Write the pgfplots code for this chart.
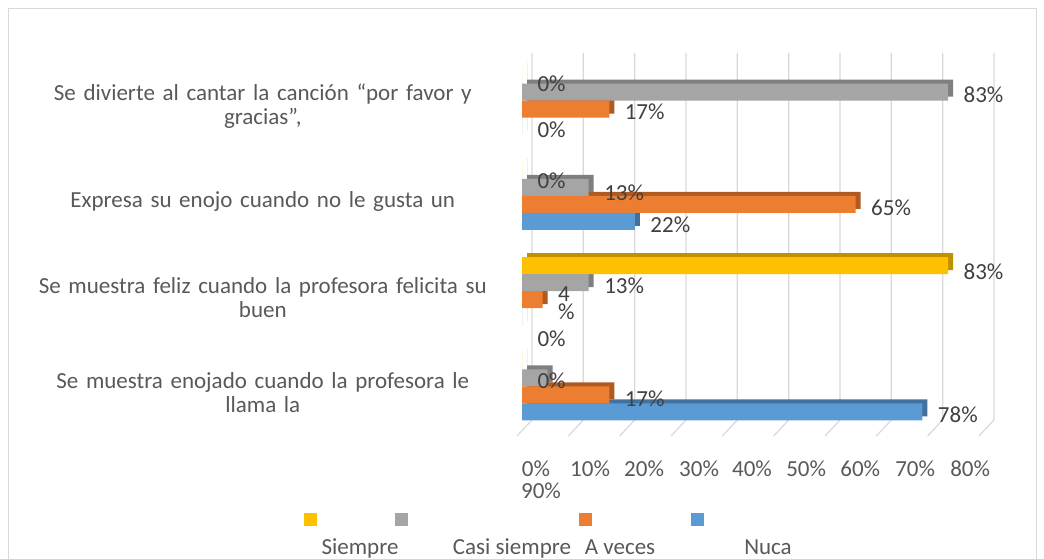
\documentclass[border=0pt]{standalone}
\usepackage{pgfplots}
\usepackage{pgfplotstable}
\pgfplotsset{compat=1.18}
\usepackage{fontspec}
\setmainfont{Carlito}

\definecolor{cSi}{HTML}{FFC000}
\definecolor{cSiD}{HTML}{BF9000}
\definecolor{cCs}{HTML}{A5A5A5}
\definecolor{cCsD}{HTML}{7F7F7F}
\definecolor{cAv}{HTML}{ED7D31}
\definecolor{cAvD}{HTML}{AE5A21}
\definecolor{cNu}{HTML}{5B9BD5}
\definecolor{cNuD}{HTML}{41719C}
\definecolor{txt}{HTML}{595959}
\definecolor{lbl}{HTML}{404040}
\definecolor{gridc}{HTML}{D9D9D9}

\newcommand\lf{\fontsize{23}{24}\selectfont}
% label text lowered by #1 inside a box of unchanged size
\protected\def\lb#1#2{\raisebox{-#1}[\height][\depth]{#2}}
\protected\def\fourp{\begin{tabular}{@{}l@{}}4\\[-6pt]\%\end{tabular}}

% c = category (0 = bottom), v = percent, lab = shown label
\pgfplotstableread{
c v lab
3 0 {\lb{9pt}{0\%}}
2 0 {\lb{10pt}{0\%}}
1 83 {\lb{6pt}{83\%}}
0 0 {\lb{20pt}{0\%}}
}\tSi
\pgfplotstableread{
c v lab
3 83 {\lb{3pt}{83\%}}
2 13 {\lb{5pt}{13\%}}
1 13 {\lb{3pt}{13\%}}
0 5 {}
}\tCs
\pgfplotstableread{
c v lab
3 17 {\lb{3pt}{17\%}}
2 65 {\lb{3pt}{65\%}}
1 4 {\lb{6pt}{\fourp}}
0 17 {\lb{4pt}{17\%}}
}\tAv
\pgfplotstableread{
c v lab
3 0 {\lb{4pt}{0\%}}
2 22 {\lb{3pt}{22\%}}
1 0 {\lb{22pt}{0\%}}
0 78 {\lb{3pt}{78\%}}
}\tNu

\begin{document}
\begin{tikzpicture}
\fill[white] (0,0) rectangle (1044pt,559pt);
\useasboundingbox (0,0) rectangle (1044pt,559pt);
\draw[gridc, line width=1pt] (8pt,-5pt) rectangle (1036pt,550pt);

\begin{axis}[
  at={(522pt,125pt)}, anchor=south west,
  scale only axis, width=462pt, height=381pt,
  xmin=0, xmax=90, ymin=-0.5, ymax=3.5,
  clip=false,
  axis lines=left, axis line style={draw=none},
  major tick length=0pt,
  xbar, bar width=17pt,
  xtick={2.73,13.26,23.78,34.5,44.8,55.36,65.9,76.6,87.3},
  xticklabels={0\%,10\%,20\%,30\%,40\%,50\%,60\%,70\%,80\%},
  extra x ticks={3.7}, extra x tick labels={90\%},
  extra x tick style={xticklabel style={yshift=-22pt}},
  xticklabel style={font=\lf, text=txt, anchor=north, inner sep=0pt, yshift=-27pt},
  ytick={0,1,2,3},
  yticklabels={{Se muestra enojado cuando la profesora le\\llama la},
               {Se muestra feliz cuando la profesora felicita su\\buen},
               {Expresa su enojo cuando no le gusta un},
               {Se divierte al cantar la canción “por favor y\\gracias”,}},
  yticklabel style={font=\lf, text=txt, text width=470pt, align=center,
                    anchor=east, inner sep=0pt, xshift=-24pt, yshift=-6pt},
  nodes near coords style={font=\lf, text=lbl, anchor=west, xshift=12pt},
]
% back wall grid with 3D floor slants
\pgfplotsinvokeforeach{0,10,...,90}{
  \draw[gridc, line width=1.2pt] ([xshift=10pt]axis cs:#1,3.5) -- ([xshift=10pt]axis cs:#1,-0.353)
    -- ([xshift=-5pt,yshift=-16pt]axis cs:#1,-0.353);
}
% depth faces
\addplot[fill=cSiD, draw=none, bar shift=25.5pt, xshift=5pt, yshift=4pt, forget plot] table[x=v,y=c]{\tSi};
\addplot[fill=cCsD, draw=none, bar shift=8.5pt, xshift=5pt, yshift=4pt, forget plot] table[x=v,y=c]{\tCs};
\addplot[fill=cAvD, draw=none, bar shift=-8.5pt, xshift=5pt, yshift=4pt, forget plot] table[x=v,y=c]{\tAv};
\addplot[fill=cNuD, draw=none, bar shift=-25.5pt, xshift=5pt, yshift=4pt, forget plot] table[x=v,y=c]{\tNu};
% front faces with labels
\addplot[fill=cSi, draw=none, bar shift=25.5pt, nodes near coords, point meta=explicit symbolic]
  table[x=v,y=c,meta=lab]{\tSi};
\addplot[fill=cCs, draw=none, bar shift=8.5pt, nodes near coords, point meta=explicit symbolic]
  table[x=v,y=c,meta=lab]{\tCs};
\addplot[fill=cAv, draw=none, bar shift=-8.5pt, nodes near coords, point meta=explicit symbolic]
  table[x=v,y=c,meta=lab]{\tAv};
\addplot[fill=cNu, draw=none, bar shift=-25.5pt, nodes near coords, point meta=explicit symbolic]
  table[x=v,y=c,meta=lab]{\tNu};
\end{axis}

% legend
\fill[cSi] (303.5pt,32.5pt) rectangle ++(13pt,13pt);
\fill[cCs] (394.5pt,32.5pt) rectangle ++(13pt,13pt);
\fill[cAv] (578.5pt,32.5pt) rectangle ++(13pt,13pt);
\fill[cNu] (690.5pt,32.5pt) rectangle ++(13pt,13pt);
\node[font=\lf, text=txt, anchor=base, inner sep=0pt] at (360pt,4pt) {Siempre};
\node[font=\lf, text=txt, anchor=base, inner sep=0pt] at (512pt,4pt) {Casi siempre};
\node[font=\lf, text=txt, anchor=base, inner sep=0pt] at (620pt,4pt) {A veces};
\node[font=\lf, text=txt, anchor=base, inner sep=0pt] at (768pt,4pt) {Nuca};
\end{tikzpicture}
\end{document}
